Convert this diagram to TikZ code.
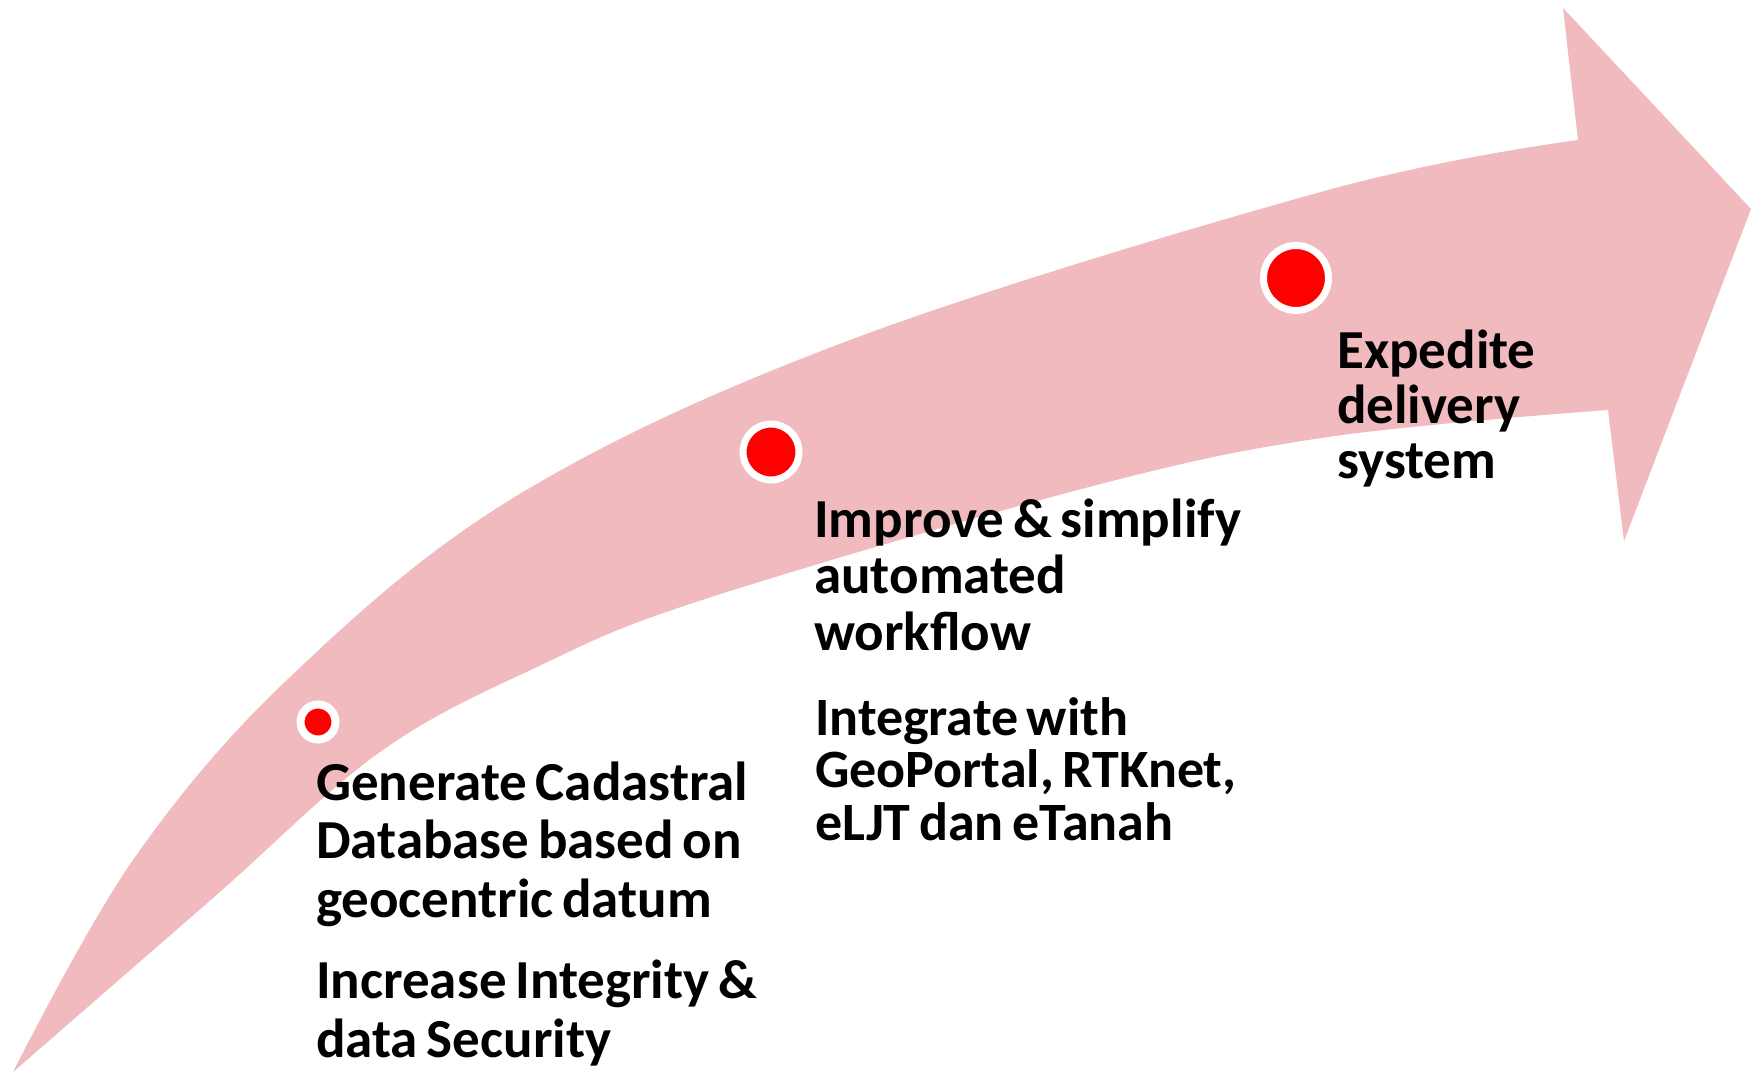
\documentclass[tikz,border=0pt]{standalone}
\usepackage{fontspec}
\setmainfont{Carlito}[WordSpace=0.7]
\usetikzlibrary{shadows}
\definecolor{band}{RGB}{240,186,190}
\definecolor{dotred}{RGB}{255,0,0}
\tikzset{
  txt/.style={anchor=base west, align=left, inner sep=0pt, text=black},
  dotmark/.style={circle, fill=dotred, draw=white, inner sep=0pt,
    drop shadow={shadow xshift=1.5pt, shadow yshift=-3pt, opacity=0.35, fill=black!70}},
}
\begin{document}
\begin{tikzpicture}[x=1pt,y=-1pt]
\useasboundingbox (0,0) rectangle (1751,1074);
% curved arrow
\fill[band] plot[smooth, tension=0.6] coordinates {(13,1072) (133,860) (290,677) (518,495) (850,340) (1328,190) (1578,140)}
  -- (1563,8) -- (1751,209) -- (1624,541) -- (1608,410)
  -- plot[smooth, tension=0.6] coordinates {(1608,410) (1328,437) (1089,487) (702,600) (537,667) (380,752) (213,898) (13,1072)} -- cycle;
% dots
\node[dotmark, minimum size=35pt, line width=8pt] (d1) at (318,722) {};
\node[dotmark, minimum size=56pt, line width=7pt] (d2) at (771,452) {};
\node[dotmark, minimum size=65pt, line width=7pt] (d3) at (1296,278) {};
% texts (anchored at the baseline of the last line)
\node[txt, font=\bfseries\fontsize{55}{58.5}\selectfont] (t1a) at (316,917) {Generate Cadastral\\Database based on\\geocentric datum};
\node[txt, font=\bfseries\fontsize{55}{59}\selectfont] (t1b) at (316,1057) {Increase Integrity \&\\data Security};
\node[txt, font=\bfseries\fontsize{55}{56.5}\selectfont] (t2a) at (814,650) {Improve \& simplify\\automated\\workflow};
\node[txt, font=\bfseries\fontsize{54}{52.5}\selectfont] (t2b) at (815,840) {Integrate with\\GeoPortal, RTKnet,\\eLJT dan eTanah};
\node[txt, font=\bfseries\fontsize{55}{55}\selectfont] (t3) at (1337,478) {Expedite\\delivery\\system};
\end{tikzpicture}
\end{document}
